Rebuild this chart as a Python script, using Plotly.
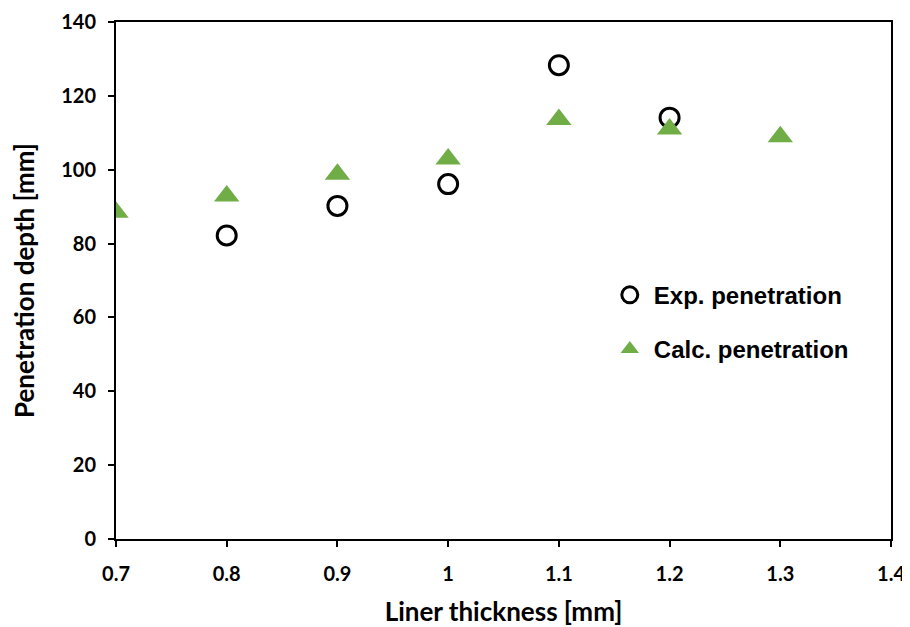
import plotly.graph_objects as go

exp_x = [0.8, 0.9, 1.0, 1.1, 1.2]
exp_y = [82.2, 90.2, 96.1, 128.3, 114.1]
calc_x = [0.7, 0.8, 0.9, 1.0, 1.1, 1.2, 1.3]
calc_y = [88.5, 92.9, 98.8, 102.9, 113.6, 111.0, 108.9]

fig = go.Figure()
fig.add_trace(go.Scatter(x=exp_x, y=exp_y, mode="markers", name="Exp. penetration",
                         legendgroup="a",
                         marker=dict(symbol="circle-open", size=19, color="black",
                                     line=dict(width=3, color="black"))))
fig.add_trace(go.Scatter(x=calc_x, y=calc_y, mode="markers", name="Calc. penetration",
                         legendgroup="b",
                         marker=dict(symbol="triangle-up", size=22, color="#70ad47")))

tickfont = dict(family="Lato, Open Sans, sans-serif", size=20, color="black", weight="bold")
titlefont = dict(family="Lato, Open Sans, sans-serif", size=26, color="black", weight="bold")
fig.update_layout(
    width=902, height=619,
    margin=dict(l=108, r=19, t=14, b=88),
    plot_bgcolor="white", paper_bgcolor="white",
    showlegend=True,
    legend=dict(x=0.632, y=0.515, xanchor="left", yanchor="top",
                font=dict(family="Liberation Sans, Arial, sans-serif", size=24, color="black", weight="bold"),
                tracegroupgap=20, itemwidth=38, bgcolor="rgba(0,0,0,0)"),
    xaxis=dict(range=[0.7, 1.4], dtick=0.1, tick0=0.7, showgrid=False, zeroline=False,
               showline=True, linecolor="black", linewidth=2, mirror=True, automargin=False,
               ticks="outside", ticklen=6, tickwidth=2, tickcolor="black",
               tickfont=tickfont, tickformat="~g", ticklabelstandoff=10,
               title=dict(text="Liner thickness [mm]", standoff=20, font=titlefont)),
    yaxis=dict(range=[0, 140], dtick=20, showgrid=False, zeroline=False,
               showline=True, linecolor="black", linewidth=2, mirror=True, automargin=False,
               ticks="outside", ticklen=6, tickwidth=2, tickcolor="black",
               tickfont=tickfont, ticklabelstandoff=8,
               title=dict(text="Penetration depth [mm]", standoff=23, font=titlefont)),
)
fig.write_html("out.html")
